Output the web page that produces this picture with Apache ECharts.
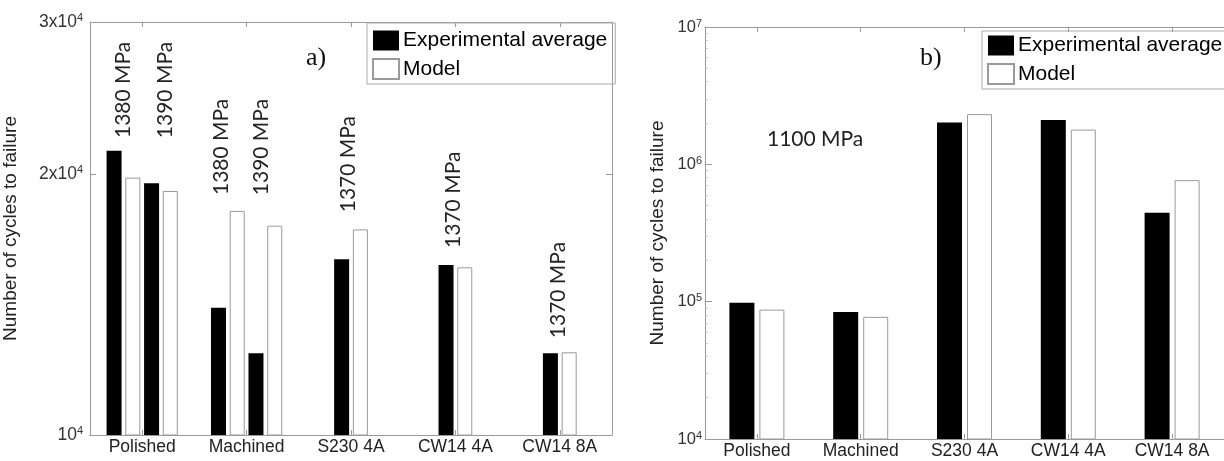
<!DOCTYPE html>
<html><head><meta charset="utf-8">
<script src="https://cdn.jsdelivr.net/npm/echarts@6/dist/echarts.min.js"></script>
<style>html,body{margin:0;padding:0;background:#fff}#c{width:1224px;height:461px}</style>
</head><body><div id="c"></div>
<script>
// ---------- data ----------
const categories = ['Polished', 'Machined', 'S230 4A', 'CW14 4A', 'CW14 8A'];
const seriesNames = ['Experimental average', 'Model'];

// panel a) – 1380 / 1390 MPa pairs (Polished, Machined) and 1370 MPa pairs
const expA1380   = [21300, 14030, null, null, null];
const modelA1380 = [19830, 18150, null, null, null];
const expA1390   = [19540, 12430, null, null, null];
const modelA1390 = [19140, 17450, null, null, null];
const expA1370   = [null, null, 15960, 15720, 12430];
const modelA1370 = [null, null, 17280, 15620, 12460];
const textA1380 = ['1380 MPa', '1380 MPa', null, null, null];
const textA1390 = ['1390 MPa', '1390 MPa', null, null, null];
const textA1370 = [null, null, '1370 MPa', '1370 MPa', '1370 MPa'];
const ticksA = [10000, 20000, 30000];

// panel b) – 1100 MPa
const expB   = [98000, 84000, 2020000, 2100000, 445000];
const modelB = [87500, 77500, 2320000, 1790000, 767000];
const ticksB = [10000, 100000, 1000000, 10000000];
const minorMultipliersB = [2, 3, 4, 5, 6, 7, 8, 9];
const minorDecadesB = [10000, 100000, 1000000];
const textB = '1100 MPa';

// ---------- layout (not data) ----------
const liftA1380 = [12.7, 112.7], shiftA1380 = [9.5, 2.5];
const liftA1390 = [45, 158],     shiftA1390 = [13.5, 5.5];
const liftA1370 = [0, 0, 47, 17, 15], shiftA1370 = [0, 0, 6.5, 7.5, 7.5];

const SANS = 'Liberation Sans, Arial, sans-serif';
const ANNOT = 'Lato, Carlito, Calibri, sans-serif';
const AXIS_GRAY = '#9a9a9a';

function sciLabel(v) {
  const e = Math.floor(Math.log10(v) + 1e-9);
  const m = Math.round(v / Math.pow(10, e));
  return (m === 1 ? '' : m + 'x') + '10{s|' + e + '}';
}
const tickRich = { s: { fontSize: 11, verticalAlign: 'top', lineHeight: 12, color: '#333', fontFamily: SANS } };

function withLabels(values, texts, lifts, shifts) {
  return values.map((v, i) => {
    if (!texts[i]) return v;
    return {
      value: v,
      label: {
        show: true, position: 'top', distance: 0, rotate: 90,
        align: 'left', verticalAlign: 'middle',
        offset: [lifts[i] || 0, shifts[i] || 0],
        formatter: texts[i],
        fontFamily: ANNOT, fontSize: 21, color: '#222'
      }
    };
  });
}

const expStyle = { color: '#000' };
const modelStyle = { color: '#fff', borderColor: '#9a9a9a', borderWidth: 1 };

const minorTicks = [];
minorDecadesB.forEach(d => minorMultipliersB.forEach(m => minorTicks.push(m * d)));

function catAxis(grid, pos, showLabels, extra) {
  return Object.assign({
    type: 'category', gridIndex: grid, position: pos, data: categories,
    boundaryGap: true,
    axisLine: { show: true, lineStyle: { color: AXIS_GRAY, width: 1 } },
    axisTick: { show: true, inside: true, alignWithLabel: true, length: 5, lineStyle: { color: AXIS_GRAY } },
    axisLabel: { show: showLabels, margin: 3, fontFamily: SANS, fontSize: 17.5, color: '#222' },
    splitLine: { show: false }
  }, extra || {});
}

const option = {
  animation: false,
  backgroundColor: '#fff',
  grid: [
    { left: 89, top: 22, width: 523, height: 413 },
    { left: 705, top: 27, width: 522, height: 412 }
  ],
  title: [
    { text: 'a)', left: 306, top: 45, padding: 0, textStyle: { fontFamily: 'Liberation Serif, Times New Roman, serif', fontSize: 26, fontWeight: 'normal', color: '#111' } },
    { text: 'b)', left: 920, top: 45, padding: 0, textStyle: { fontFamily: 'Liberation Serif, Times New Roman, serif', fontSize: 26, fontWeight: 'normal', color: '#111' } },
    { text: textB, left: 767, top: 129, padding: 0, textStyle: { fontFamily: ANNOT, fontSize: 21, fontWeight: 'normal', color: '#222' } }
  ],
  legend: [
    { data: seriesNames, orient: 'vertical', left: 367, top: 23, selectedMode: false,
      itemWidth: 26, itemHeight: 20, itemGap: 7, icon: 'rect',
      padding: [7, 8, 4, 5], borderColor: '#aaa', borderWidth: 1,
      textStyle: { fontFamily: SANS, fontSize: 21, color: '#000', padding: [0, 0, 0, -1] } },
    { data: seriesNames, orient: 'vertical', left: 982, top: 31, selectedMode: false,
      itemWidth: 26, itemHeight: 20, itemGap: 7, icon: 'rect',
      padding: [4, 8, 4, 5], borderColor: '#aaa', borderWidth: 1,
      textStyle: { fontFamily: SANS, fontSize: 21, color: '#000', padding: [0, 0, 0, -1] } }
  ],
  xAxis: [
    catAxis(0, 'bottom', true),
    catAxis(0, 'top', false),
    catAxis(1, 'bottom', true),
    catAxis(1, 'top', false)
  ],
  yAxis: [
    { type: 'log', gridIndex: 0, position: 'left', min: 10000, max: 30000, logBase: 10,
      name: 'Number of cycles to failure', nameLocation: 'middle', nameGap: 70,
      nameTextStyle: { fontFamily: SANS, fontSize: 19, color: '#222' },
      axisLine: { show: true, lineStyle: { color: AXIS_GRAY } },
      axisTick: { show: true, inside: true, length: 6, customValues: ticksA, lineStyle: { color: AXIS_GRAY } },
      axisLabel: { show: true, margin: 7, customValues: ticksA, formatter: sciLabel, rich: tickRich,
                   fontFamily: SANS, fontSize: 17.5, lineHeight: 19, color: '#333' },
      splitLine: { show: false } },
    { type: 'log', gridIndex: 0, position: 'right', min: 10000, max: 30000, logBase: 10,
      axisLine: { show: true, lineStyle: { color: AXIS_GRAY } },
      axisTick: { show: true, inside: true, length: 6, customValues: ticksA, lineStyle: { color: AXIS_GRAY } },
      axisLabel: { show: false }, splitLine: { show: false } },
    { type: 'log', gridIndex: 1, position: 'left', min: 10000, max: 10000000, logBase: 10,
      name: 'Number of cycles to failure', nameLocation: 'middle', nameGap: 38,
      nameTextStyle: { fontFamily: SANS, fontSize: 19, color: '#222' },
      axisLine: { show: true, lineStyle: { color: AXIS_GRAY } },
      axisTick: { show: true, inside: true, length: 7, customValues: ticksB, lineStyle: { color: AXIS_GRAY } },
      axisLabel: { show: true, margin: 3, customValues: ticksB, formatter: sciLabel, rich: tickRich,
                   fontFamily: SANS, fontSize: 16.5, lineHeight: 18, color: '#333' },
      splitLine: { show: false } },
    { type: 'log', gridIndex: 1, position: 'left', min: 10000, max: 10000000, logBase: 10,
      axisLine: { show: false },
      axisTick: { show: true, inside: true, length: 3, customValues: minorTicks, lineStyle: { color: '#c4c4c4' } },
      axisLabel: { show: false }, splitLine: { show: false } }
  ],
  series: [
    { name: seriesNames[0], type: 'bar', xAxisIndex: 0, yAxisIndex: 0, barWidth: 15, barGap: '25%',
      itemStyle: expStyle, data: withLabels(expA1380, textA1380, liftA1380, shiftA1380) },
    { name: seriesNames[1], type: 'bar', xAxisIndex: 0, yAxisIndex: 0, barWidth: 15, barGap: '25%',
      itemStyle: modelStyle, data: modelA1380 },
    { name: seriesNames[0], type: 'bar', xAxisIndex: 0, yAxisIndex: 0, barWidth: 15, barGap: '25%',
      itemStyle: expStyle, data: withLabels(expA1390, textA1390, liftA1390, shiftA1390) },
    { name: seriesNames[1], type: 'bar', xAxisIndex: 0, yAxisIndex: 0, barWidth: 15, barGap: '25%',
      itemStyle: modelStyle, data: modelA1390 },
    { name: seriesNames[0], type: 'bar', xAxisIndex: 1, yAxisIndex: 0, barWidth: 15, barGap: '25%',
      itemStyle: expStyle, data: withLabels(expA1370, textA1370, liftA1370, shiftA1370) },
    { name: seriesNames[1], type: 'bar', xAxisIndex: 1, yAxisIndex: 0, barWidth: 15, barGap: '25%',
      itemStyle: modelStyle, data: modelA1370 },
    { name: seriesNames[0], type: 'bar', xAxisIndex: 2, yAxisIndex: 2, barWidth: 25, barGap: '20%',
      itemStyle: expStyle, data: expB },
    { name: seriesNames[1], type: 'bar', xAxisIndex: 2, yAxisIndex: 2, barWidth: 25, barGap: '20%',
      itemStyle: modelStyle, data: modelB }
  ]
};

const chart = echarts.init(document.getElementById('c'), null, { renderer: 'canvas' });
chart.setOption(option);
</script>
</body></html>
